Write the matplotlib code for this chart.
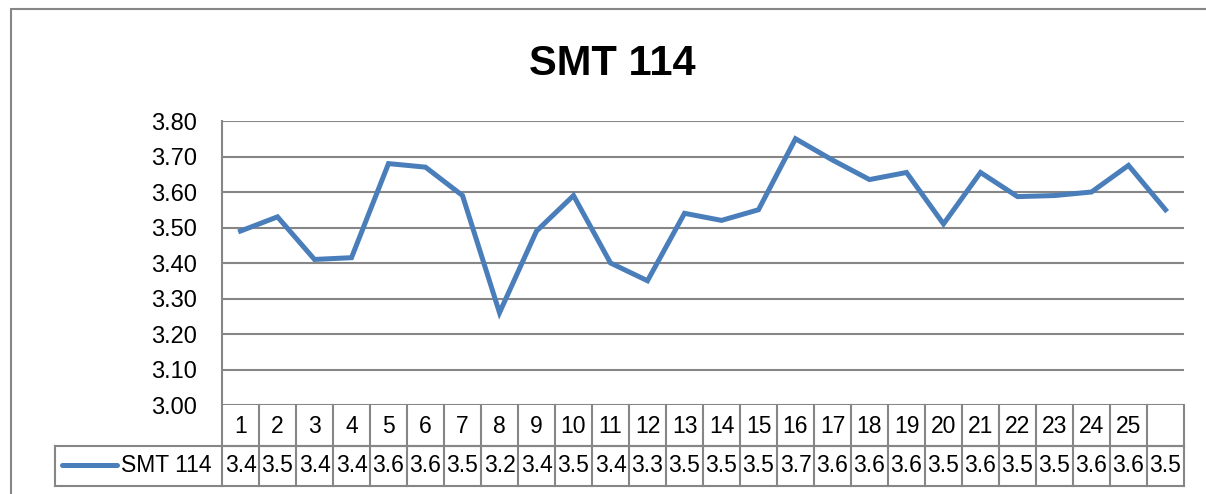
# SMT 114 line chart with Excel-style data table
import numpy as np
import matplotlib
matplotlib.use("Agg")
import matplotlib.pyplot as plt
from matplotlib.patches import Rectangle

plt.rcParams['font.family'] = ['Liberation Sans', 'DejaVu Sans']

# data
series_name = "SMT 114"
categories = list(range(1, 27))
cat_labels = [str(i) for i in range(1, 26)] + [""]
values = [3.49, 3.53, 3.41, 3.415, 3.68, 3.67, 3.59, 3.26, 3.49, 3.59,
          3.40, 3.35, 3.54, 3.52, 3.55, 3.75, 3.69, 3.635, 3.655, 3.51,
          3.655, 3.587, 3.59, 3.60, 3.675, 3.55]
table_values = ["3.4", "3.5", "3.4", "3.4", "3.6", "3.6", "3.5", "3.2", "3.4", "3.5",
                "3.4", "3.3", "3.5", "3.5", "3.5", "3.7", "3.6", "3.6", "3.6", "3.5",
                "3.6", "3.5", "3.5", "3.6", "3.6", "3.5"]
yticks = [3.00, 3.10, 3.20, 3.30, 3.40, 3.50, 3.60, 3.70, 3.80]

# styles
line_color = "#4a7ebb"
grid_color = "#868686"
W, H = 1206, 494

fig = plt.figure(figsize=(W / 100, H / 100), dpi=100)
ax = fig.add_axes([222 / W, 1 - 405 / H, 962 / W, 284 / H])

# outer chart frame (only left and top edges are visible)
fig.patches.append(Rectangle((10.5 / W, -0.5), 2, 1.5 - 9 / H, transform=fig.transFigure,
                             fill=False, edgecolor=grid_color, lw=1.5))

# main line
ax.plot(categories, values, color=line_color, lw=3.6, solid_joinstyle='miter')
ax.set_xlim(0.5, 26.5)
ax.set_ylim(3.0, 3.8)
ax.set_yticks(yticks)
ax.set_yticklabels([f"{v:.2f}" for v in yticks], fontsize=17)
ax.tick_params(axis='y', length=0, pad=18)
ax.set_xticks([])
ax.grid(axis='y', color=grid_color, lw=1.5)
ax.set_axisbelow(True)
for s in ['top', 'right', 'bottom']:
    ax.spines[s].set_visible(False)
ax.spines['left'].set_color(grid_color)
ax.spines['left'].set_linewidth(1.5)

# data table below the plot
row1_bot = -(446 - 405) / 284
row2_bot = -(486 - 405) / 284
leg_left = (55 - 222) / 962
xt = ax.get_xaxis_transform()
tk = dict(color=grid_color, lw=1.5, clip_on=False)

ax.plot([0, 1], [row1_bot, row1_bot], transform=ax.transAxes, **tk)
ax.plot([leg_left, 1], [row1_bot, row1_bot], transform=ax.transAxes, **tk)
ax.plot([leg_left, 1], [row2_bot, row2_bot], transform=ax.transAxes, **tk)
ax.plot([leg_left, leg_left], [row1_bot, row2_bot], transform=ax.transAxes, **tk)
for c in categories:
    ax.plot([c - 0.5, c - 0.5], [0, row2_bot], transform=xt, **tk)
ax.plot([26.5, 26.5], [0, row2_bot], transform=xt, **tk)

for c, lab, val in zip(categories, cat_labels, table_values):
    ax.text(c, -(433 - 405) / 284, lab, transform=xt, ha='center', va='baseline', fontsize=16.5)
    ax.text(c, -(472 - 405) / 284, val, transform=xt, ha='center', va='baseline', fontsize=16.5)

# legend key in the table
ly = -(465 - 405) / 284
ax.plot([(62 - 222) / 962, (117 - 222) / 962], [ly, ly], transform=ax.transAxes,
        color=line_color, lw=3.6, clip_on=False, solid_capstyle='round')
ax.text((121 - 222) / 962, -(472 - 405) / 284, series_name, transform=ax.transAxes,
        ha='left', va='baseline', fontsize=16.5)

# title
fig.text(612 / W, 1 - 75 / H, "SMT 114", ha='center', va='baseline',
         fontsize=30, fontweight='bold')

fig.savefig("out.png", dpi=100)
